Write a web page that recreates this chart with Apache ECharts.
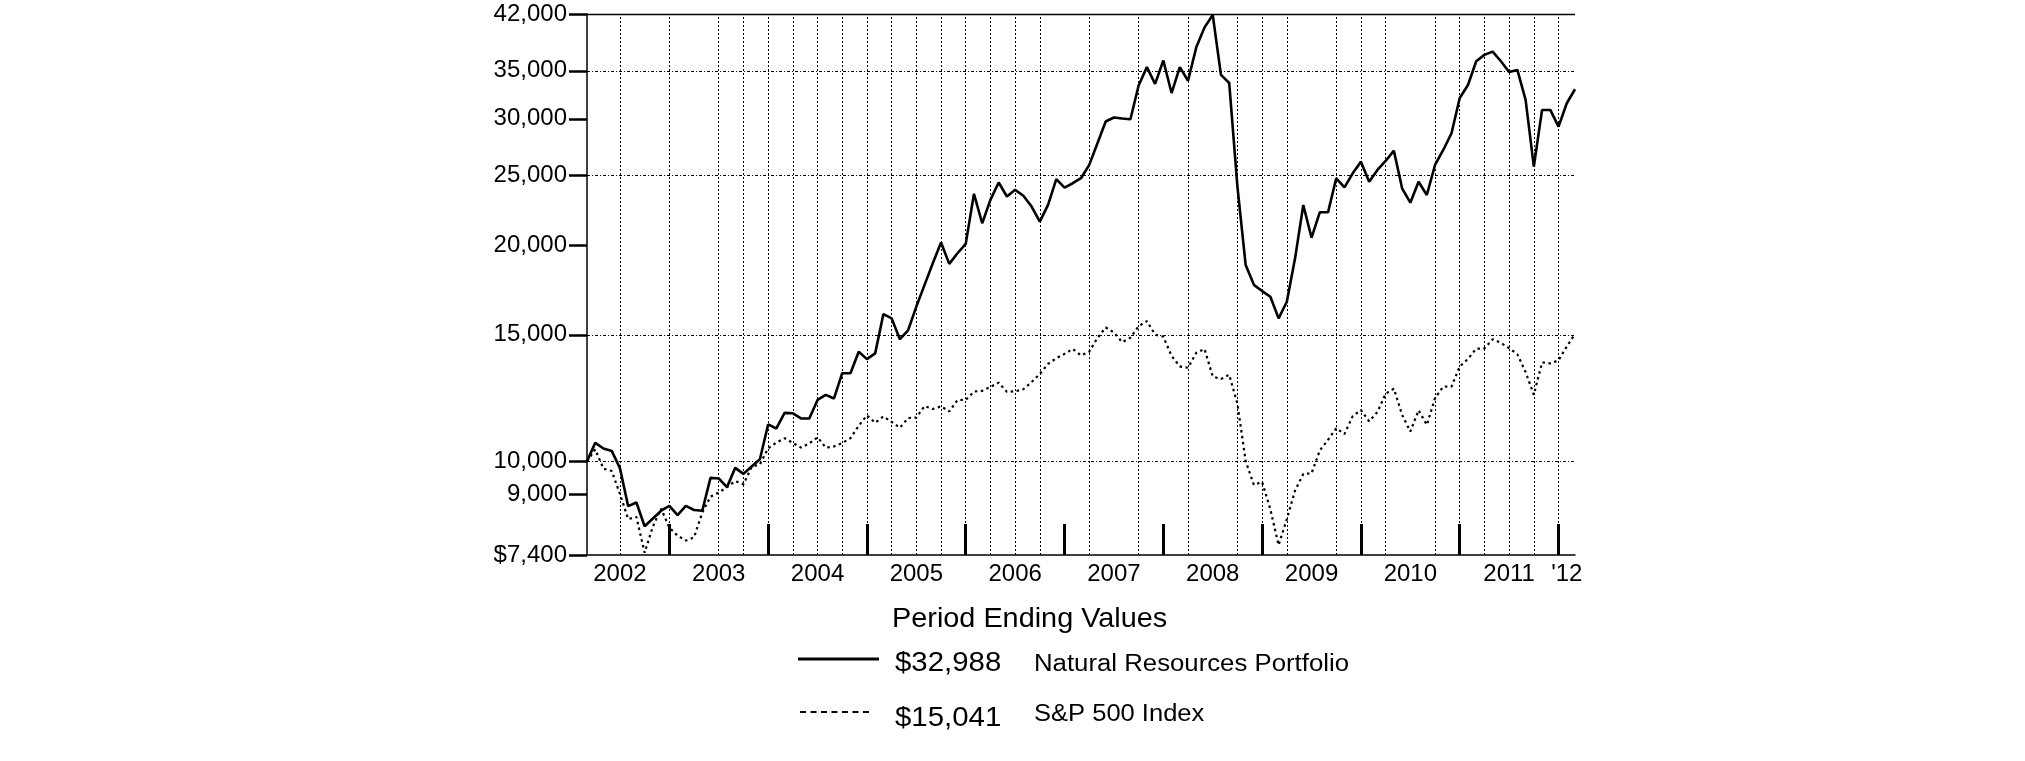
<!DOCTYPE html>
<html><head><meta charset="utf-8">
<script src="https://cdn.jsdelivr.net/npm/echarts@6/dist/echarts.min.js"></script>
<style>html,body{margin:0;padding:0;background:#fff}#c{width:2025px;height:761px}</style>
</head><body><div id="c"></div>
<script>
// ---- data ----
const startYear = 2002, startMonth = 2; // first point: Feb 2002
const monthCount = 121;
const seriesNames = ['Natural Resources Portfolio', 'S&P 500 Index'];
const naturalResources = [
10000,10605,10416,10336,9780,8655,8758,8116,8319,8530,8663,8408,8663,8550,8530,9478,9460,9200,9787,9600,9830,10060,11251,11107,11678,11660,11470,11470,12170,12370,12230,13262,13262,14205,13876,14133,16034,15814,14790,15220,16424,17609,
18872,20169,18835,19489,20085,23584,21459,23133,24456,23381,23888,23434,22642,21576,22766,24719,24063,24400,24794,25883,27743,29743,30129,30032,29960,33385,35417,33560,36176,32590,35417,33900,37736,40230,41880,
34544,33660,24141,18765,17609,17262,16950,15814,16680,19174,22754,20485,22225,22225,24789,24082,25190,26146,24520,25459,26206,27087,24006,22922,24520,23496,25872,27147,28642,32072,33446,36094,36834,37228,36094,34868,35097,31876,25733,30871,30871,29257,31540,32988
];
const sp500 = [
10000,10385,9762,9689,9003,8305,8360,7453,8110,8587,8081,7873,7752,7831,8477,8925,9041,9202,9382,9287,9813,9900,10419,10616,10764,10605,10444,10588,10796,10445,10484,10601,10766,11202,11584,11311,11543,11342,11132,11485,11503,11937,
11821,11924,11732,12166,12173,12505,12532,12691,12868,12490,12513,12598,12887,13228,13665,13914,14112,14335,14045,14210,14849,15359,15111,14651,14863,15422,15677,15012,14908,14018,13553,13495,14160,14335,13125,
13017,13197,12020,10001,9267,9356,8568,7638,8305,9099,9599,9616,10347,10711,11113,10912,11556,11781,11364,11707,12417,12621,11605,10998,11774,11233,12239,12709,12703,13552,13883,14350,14359,14791,14617,14372,14089,13311,12375,13730,13684,13822,14449,15041
];
const yTickValues = [7400, 9000, 10000, 15000, 20000, 25000, 30000, 35000, 42000];
const yGridValues = [10000, 15000, 25000, 35000];
const yearLabels = ['2002','2003','2004','2005','2006','2007','2008','2009','2010','2011',"'12"];
const yearLabelIndex = [4,16,28,40,52,64,76,88,100,112,119];
const yearTickIndex = [10,22,34,46,58,70,82,94,106,118];
const xGridIndex = [4,10,16,19,22,25,28,31,34,37,40,43,46,49,52,55,61,67,73,79,82,85,91,94,97,103,106,109,112,115,118];
const legendTitle = 'Period Ending Values';

// ---- build ----
const months = [];
for (let i = 0; i < monthCount; i++) {
  const t = (startMonth - 1) + i;
  const y = startYear + Math.floor(t / 12), m = (t % 12) + 1;
  months.push(y + '-' + (m < 10 ? '0' + m : m));
}
const FONT = '"Liberation Sans", Arial, Helvetica, sans-serif';
const fmt = v => v.toLocaleString('en-US');
const gridStyle = { color: '#000', width: 1, type: [2, 2] };

const markData = [];
yGridValues.forEach(v => markData.push({ yAxis: v, lineStyle: { color: '#000', width: 1, type: [3, 2, 1, 2] } }));
xGridIndex.forEach(i => markData.push({ xAxis: months[i], lineStyle: gridStyle }));
markData.push({ yAxis: yTickValues[yTickValues.length - 1], lineStyle: { color: '#000', width: 1.3, type: 'solid' } });

function txt(text, x, y, size, sx) {
  return { type: 'text', x: x, y: y, scaleX: sx, style: { text: text, x: 0, y: 0, align: 'left', verticalAlign: 'middle', font: size + 'px ' + FONT, fill: '#000' } };
}

const chart = echarts.init(document.getElementById('c'), null, { renderer: 'canvas' });
const option = {
  animation: false,
  backgroundColor: '#fff',
  grid: { left: 587, top: 14, width: 988, height: 541, containLabel: false },
  xAxis: {
    type: 'category', data: months, boundaryGap: false,
    axisLine: { show: true, lineStyle: { color: '#000', width: 1.5 } },
    axisTick: { show: true, inside: true, length: 31, interval: (i) => yearTickIndex.includes(i), lineStyle: { color: '#000', width: 3 } },
    axisLabel: { show: true, interval: (i) => yearLabelIndex.includes(i), formatter: (v, i) => yearLabels[yearLabelIndex.indexOf(i)] || '',
      color: '#000', fontFamily: FONT, fontSize: 24, margin: 7 },
    splitLine: { show: false }
  },
  yAxis: {
    type: 'log', logBase: 10, min: 7400, max: 42000,
    axisLine: { show: true, lineStyle: { color: '#000', width: 1.5 } },
    axisTick: { show: true, length: 18, customValues: yTickValues, lineStyle: { color: '#000', width: 2.5 } },
    axisLabel: { show: true, customValues: yTickValues, color: '#000', fontFamily: FONT, fontSize: 24, margin: 20,
      formatter: v => (v === yTickValues[0] ? '$' : '') + fmt(Math.round(v)) },
    splitLine: { show: false }
  },
  series: [
    { type: 'line', name: 'grid', data: [], silent: true, z: 1,
      markLine: { silent: true, symbol: ['none', 'none'], label: { show: false }, animation: false, data: markData } },
    { type: 'line', name: seriesNames[1], data: sp500, showSymbol: false, z: 3,
      lineStyle: { color: '#000', width: 2.2, type: [2.5, 3.5] } },
    { type: 'line', name: seriesNames[0], data: naturalResources, showSymbol: false, z: 4,
      lineStyle: { color: '#000', width: 2.6, type: 'solid' } }
  ],
  graphic: [
    txt(legendTitle, 892, 619, 28, 1.03),
    { type: 'line', shape: { x1: 798, y1: 659, x2: 879, y2: 659 }, style: { stroke: '#000', lineWidth: 3 } },
    txt('$' + fmt(naturalResources[naturalResources.length - 1]), 895, 663, 28, 1.05),
    txt(seriesNames[0], 1034, 665, 23, 1.12),
    { type: 'line', shape: { x1: 800, y1: 712, x2: 872, y2: 712 }, style: { stroke: '#000', lineWidth: 2, lineDash: [6, 4.5] } },
    txt('$' + fmt(sp500[sp500.length - 1]), 895, 718, 28, 1.05),
    txt(seriesNames[1], 1034, 715, 23, 1.11)
  ]
};
chart.setOption(option);
</script></body></html>
